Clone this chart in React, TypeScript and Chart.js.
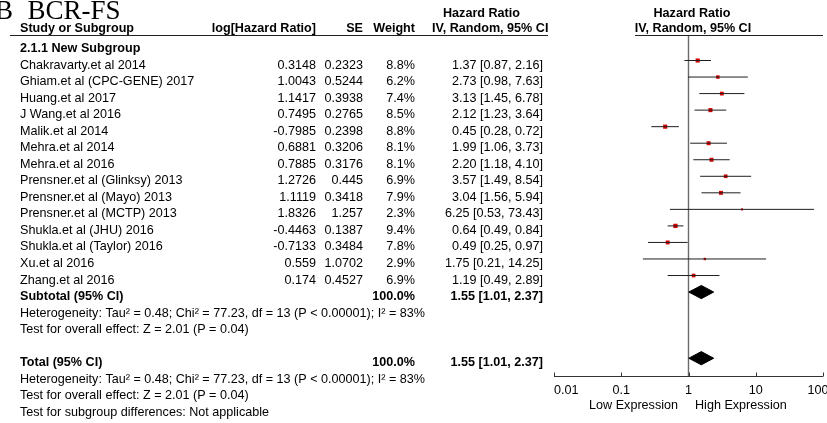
import React, { useEffect, useRef } from "react";
import { Chart, registerables } from "chart.js";

Chart.register(...registerables);

// ---------- data ----------
const studies = [
  "Chakravarty.et al 2014",
  "Ghiam.et al (CPC-GENE) 2017",
  "Huang.et al 2017",
  "J Wang.et al 2016",
  "Malik.et al 2014",
  "Mehra.et al 2014",
  "Mehra.et al 2016",
  "Prensner.et al (Glinksy) 2013",
  "Prensner.et al (Mayo) 2013",
  "Prensner.et al (MCTP) 2013",
  "Shukla.et al (JHU) 2016",
  "Shukla.et al (Taylor) 2016",
  "Xu.et al 2016",
  "Zhang.et al 2016",
];
const logHR = [0.3148, 1.0043, 1.1417, 0.7495, -0.7985, 0.6881, 0.7885, 1.2726, 1.1119, 1.8326, -0.4463, -0.7133, 0.559, 0.174];
const seValues = [0.2323, 0.5244, 0.3938, 0.2765, 0.2398, 0.3206, 0.3176, 0.445, 0.3418, 1.257, 0.1387, 0.3484, 1.0702, 0.4527];
const weights = [8.8, 6.2, 7.4, 8.5, 8.8, 8.1, 8.1, 6.9, 7.9, 2.3, 9.4, 7.8, 2.9, 6.9];
const hazardRatios = [1.37, 2.73, 3.13, 2.12, 0.45, 1.99, 2.2, 3.57, 3.04, 6.25, 0.64, 0.49, 1.75, 1.19];
const ciLow = [0.87, 0.98, 1.45, 1.23, 0.28, 1.06, 1.18, 1.49, 1.56, 0.53, 0.49, 0.25, 0.21, 0.49];
const ciHigh = [2.16, 7.63, 6.78, 3.64, 0.72, 3.73, 4.1, 8.54, 5.94, 73.43, 0.84, 0.97, 14.25, 2.89];
const pooledHR = [1.55];
const pooledLow = [1.01];
const pooledHigh = [2.37];
const pooledWeight = [100.0];
const axisTicks = [0.01, 0.1, 1, 10, 100];
const axisTickLabels = ["0.01", "0.1", "1", "10", "100"];
const subgroupTitle = "2.1.1 New Subgroup";
const heterogeneityText = "Heterogeneity: Tau² = 0.48; Chi² = 77.23, df = 13 (P < 0.00001); I² = 83%";
const overallEffectText = "Test for overall effect: Z = 2.01 (P = 0.04)";
const subgroupDiffText = "Test for subgroup differences: Not applicable";
const favoursLeft = "Low Expression";
const favoursRight = "High Expression";

// row indices
const SUBTOTAL_ROW = studies.length; // 14
const TOTAL_ROW = studies.length + 4; // 18

const FONT = '"Liberation Sans", Arial, Helvetica, sans-serif';
const FS = 12.6;

const fmtHR = (h: number, l: number, u: number) => `${h.toFixed(2)} [${l.toFixed(2)}, ${u.toFixed(2)}]`;

const forestPlugin = {
  id: "forestTable",
  beforeDatasetsDraw(chart: any) {
    const { ctx, chartArea, scales } = chart;
    const px = scales.x.getPixelForValue(1);
    ctx.save();
    ctx.strokeStyle = "#6a6a6a";
    ctx.lineWidth = 1.4;
    ctx.beginPath();
    ctx.moveTo(px, chartArea.top);
    ctx.lineTo(px, chartArea.bottom);
    ctx.stroke();
    ctx.restore();
  },
  afterDraw(chart: any) {
    const { ctx, chartArea, scales } = chart;
    const x = scales.x;
    const y = scales.y;
    ctx.save();
    ctx.fillStyle = "#000";
    ctx.textBaseline = "alphabetic";
    const text = (s: string, tx: number, ty: number, align: CanvasTextAlign = "left", bold = false) => {
      ctx.font = `${bold ? "bold " : ""}${FS}px ${FONT}`;
      ctx.textAlign = align;
      ctx.fillText(s, tx, ty);
    };
    const base = (r: number) => y.getPixelForValue(r) + 8;

    // title
    ctx.font = `27px "Liberation Serif", "Times New Roman", serif`;
    ctx.textAlign = "left";
    ctx.fillText("B", -5, 18.5);
    ctx.fillText("BCR-FS", 27.5, 18.5);

    // headers
    const h1 = 16.7;
    const h2 = 31.5;
    text("Hazard Ratio", 443, h1, "left", true);
    text("Hazard Ratio", 692, h1, "center", true);
    text("Study or Subgroup", 20, h2, "left", true);
    text("log[Hazard Ratio]", 316, h2, "right", true);
    text("SE", 363, h2, "right", true);
    text("Weight", 415, h2, "right", true);
    text("IV, Random, 95% CI", 432, h2, "left", true);
    text("IV, Random, 95% CI", 693, h2, "center", true);

    // header rule
    ctx.strokeStyle = "#222";
    ctx.lineWidth = 1;
    const ry = Math.round(chartArea.top) + 0.5;
    ctx.beginPath();
    ctx.moveTo(10, ry);
    ctx.lineTo(548, ry);
    ctx.moveTo(635, ry);
    ctx.lineTo(chartArea.right, ry);
    ctx.stroke();

    // subgroup
    text(subgroupTitle, 20, base(-1), "left", true);
    studies.forEach((s, i) => {
      const b = base(i);
      text(s, 20, b);
      text(String(logHR[i]), 316, b, "right");
      text(String(seValues[i]), 363, b, "right");
      text(`${weights[i].toFixed(1)}%`, 415, b, "right");
      text(fmtHR(hazardRatios[i], ciLow[i], ciHigh[i]), 543, b, "right");
    });
    // subtotal
    text("Subtotal (95% CI)", 20, base(SUBTOTAL_ROW), "left", true);
    text(`${pooledWeight[0].toFixed(1)}%`, 415, base(SUBTOTAL_ROW), "right", true);
    text(fmtHR(pooledHR[0], pooledLow[0], pooledHigh[0]), 543, base(SUBTOTAL_ROW), "right", true);
    text(heterogeneityText, 20, base(SUBTOTAL_ROW + 1));
    text(overallEffectText, 20, base(SUBTOTAL_ROW + 2));
    // total
    text("Total (95% CI)", 20, base(TOTAL_ROW), "left", true);
    text(`${pooledWeight[0].toFixed(1)}%`, 415, base(TOTAL_ROW), "right", true);
    text(fmtHR(pooledHR[0], pooledLow[0], pooledHigh[0]), 543, base(TOTAL_ROW), "right", true);
    text(heterogeneityText, 20, base(TOTAL_ROW + 1));
    text(overallEffectText, 20, base(TOTAL_ROW + 2));
    text(subgroupDiffText, 20, base(TOTAL_ROW + 3));

    // x axis
    const ay = Math.round(chartArea.bottom) + 0.5;
    ctx.strokeStyle = "#333";
    ctx.lineWidth = 1;
    ctx.beginPath();
    ctx.moveTo(x.getPixelForValue(axisTicks[0]), ay);
    ctx.lineTo(x.getPixelForValue(axisTicks[axisTicks.length - 1]), ay);
    axisTicks.forEach((t) => {
      const tx = Math.round(x.getPixelForValue(t)) + 0.5;
      ctx.moveTo(tx, ay);
      ctx.lineTo(tx, ay - 4);
    });
    ctx.stroke();
    axisTicks.forEach((t, i) => {
      const tx = x.getPixelForValue(t);
      if (i === 0) text(axisTickLabels[i], tx, ay + 17.5, "left");
      else if (i === axisTicks.length - 1) text(axisTickLabels[i], tx - 5, ay + 17.5, "center");
      else text(axisTickLabels[i], tx, ay + 17.5, "center");
    });
    const p1 = x.getPixelForValue(1);
    text(favoursLeft, p1 - 10.5, ay + 32, "right");
    text(favoursRight, p1 + 6.5, ay + 32, "left");
    ctx.restore();
  },
};

export default function App() {
  const ref = useRef<HTMLCanvasElement | null>(null);
  useEffect(() => {
    if (!ref.current) return;
    const datasets: any[] = [];
    studies.forEach((_, i) => {
      datasets.push({
        type: "scatter",
        data: [
          { x: ciLow[i], y: i },
          { x: ciHigh[i], y: i },
        ],
        showLine: true,
        borderColor: "#1e1e1e",
        borderWidth: 1,
        pointRadius: 0,
        fill: false,
      });
    });
    datasets.push({
      type: "scatter",
      data: hazardRatios.map((v, i) => ({ x: v, y: i })),
      pointStyle: "rect",
      pointRadius: weights.map((w) => (1.4 * Math.sqrt(w)) / Math.SQRT2),
      backgroundColor: "#d80000",
      borderWidth: 0,
    });
    [SUBTOTAL_ROW, TOTAL_ROW].forEach((r) => {
      datasets.push({
        type: "line",
        data: [
          { x: pooledLow[0], y: r },
          { x: pooledHR[0], y: r - 0.4 },
          { x: pooledHigh[0], y: r },
          { x: pooledHR[0], y: r + 0.4 },
          { x: pooledLow[0], y: r },
        ],
        fill: "shape",
        backgroundColor: "#000",
        borderColor: "#000",
        borderWidth: 1,
        pointRadius: 0,
        tension: 0,
      });
    });
    const chart = new Chart(ref.current, {
      type: "scatter",
      data: { datasets },
      options: {
        responsive: false,
        animation: false,
        events: [],
        layout: { padding: { left: 554, right: 0, top: 35, bottom: 47 } },
        plugins: { legend: { display: false }, tooltip: { enabled: false } },
        scales: {
          x: { type: "logarithmic", min: 0.01, max: 100, display: false },
          y: { type: "linear", min: -1.542, max: 19.075, reverse: true, display: false },
        },
      },
      plugins: [forestPlugin],
    } as any);
    return () => chart.destroy();
  }, []);
  return (
    <div style={{ position: "absolute", left: 0, top: 0, width: 827, height: 423, background: "#fff" }}>
      <canvas ref={ref} width={827} height={423} style={{ display: "block", width: 827, height: 423 }} />
    </div>
  );
}
